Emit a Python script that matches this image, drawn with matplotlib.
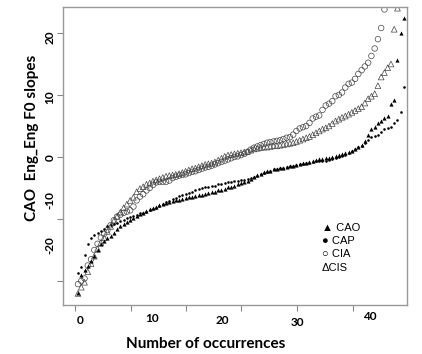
import numpy as np
import matplotlib.pyplot as plt

# sorted F0 slope values for each group (rank order)
cao = [-22.0, -19.0, -18.2, -17.5, -16.8, -16.0, -15.0, -14.0, -13.5, -13.1,
       -12.8, -12.2, -11.6, -11.2, -10.8, -10.5, -10.1, -9.8, -9.5, -9.2,
       -9.0, -8.7, -8.4, -8.2, -8.0, -7.8, -7.6, -7.4, -7.3, -7.1,
       -7.0, -6.9, -6.8, -6.6, -6.5, -6.4, -6.3, -6.2, -6.1, -5.9,
       -5.8, -5.7, -5.6, -5.4, -5.3, -5.1, -4.9, -4.8, -4.6, -4.4,
       -4.2, -4.0, -3.8, -3.5, -3.2, -2.9, -2.7, -2.5, -2.3, -2.2,
       -2.0, -1.9, -1.8, -1.7, -1.6, -1.5, -1.4, -1.3, -1.2, -1.0,
       -0.9, -0.8, -0.6, -0.5, -0.4, -0.3, -0.2, -0.1, 0.0, 0.2,
       0.3, 0.5, 0.7, 0.8, 1.0, 1.3, 1.6, 2.0, 2.6, 3.6,
       4.5, 4.8, 5.5, 5.8, 6.3, 6.6, 8.6, 9.2, 15.6, 20.0, 22.4]

cap = [-18.7, -17.8, -15.8, -14.0, -13.0, -12.6, -12.2, -11.9, -11.6, -11.2,
       -11.0, -10.8, -10.6, -10.4, -10.1, -9.9, -9.7, -9.5, -9.3, -9.1,
       -9.0, -8.8, -8.6, -8.4, -8.2, -7.9, -7.6, -7.3, -7.1, -6.8,
       -6.6, -6.3, -6.1, -5.9, -5.8, -5.6, -5.4, -5.2, -5.0, -4.9,
       -4.8, -4.7, -4.6, -4.4, -4.3, -4.2, -4.1, -4.0, -3.9, -3.8,
       -3.7, -3.7, -3.6, -3.4, -3.2, -3.0, -2.8, -2.6, -2.4, -2.2,
       -2.0, -1.9, -1.8, -1.7, -1.6, -1.5, -1.4, -1.3, -1.2, -1.1,
       -1.0, -0.9, -0.8, -0.7, -0.7, -0.6, -0.6, -0.5, -0.4, -0.2,
       0.0, 0.2, 0.4, 0.7, 1.0, 1.3, 1.6, 1.8, 2.3, 2.8,
       3.2, 3.4, 3.6, 4.0, 4.5, 4.7, 4.8, 5.5, 6.0, 7.3, 11.3]

cia = [-20.5, -20.0, -19.6, -17.5, -16.5, -15.0, -14.0, -13.0, -12.4, -11.8,
       -11.0, -10.2, -9.6, -9.3, -9.0, -8.8, -8.6, -8.0, -7.0, -6.4,
       -6.0, -5.4, -5.0, -4.5, -4.1, -4.0, -4.0, -4.0, -3.8, -3.4,
       -3.2, -3.0, -2.9, -2.8, -2.6, -2.4, -2.3, -2.1, -1.9, -1.7,
       -1.6, -1.4, -1.2, -1.0, -0.8, -0.6, -0.4, -0.2, 0.0, 0.1,
       0.3, 0.5, 0.8, 1.2, 1.5, 1.7, 1.9, 2.1, 2.3, 2.4,
       2.5, 2.6, 2.7, 2.9, 3.1, 3.2, 3.6, 4.2, 4.6, 4.8,
       5.0, 5.5, 6.2, 6.5, 6.7, 7.6, 8.3, 8.6, 9.0, 9.8,
       10.0, 10.4, 11.2, 11.8, 12.0, 12.6, 13.4, 14.0, 14.6, 15.2,
       16.3, 17.5, 19.0, 20.8, 23.8]

cis = [-22.0, -21.0, -20.2, -18.5, -17.2, -16.0, -14.8, -13.8, -13.0, -12.0,
       -11.2, -10.3, -9.6, -8.9, -8.2, -7.6, -7.0, -6.5, -5.6, -5.1,
       -4.8, -4.4, -4.2, -3.9, -3.7, -3.5, -3.3, -3.1, -3.0, -2.9,
       -2.8, -2.7, -2.5, -2.3, -2.1, -1.9, -1.8, -1.6, -1.4, -1.2,
       -1.1, -1.0, -0.8, -0.5, -0.2, 0.1, 0.3, 0.4, 0.5, 0.6,
       0.7, 0.8, 0.9, 1.1, 1.3, 1.4, 1.5, 1.6, 1.6, 1.7,
       1.8, 1.8, 1.9, 2.0, 2.1, 2.2, 2.3, 2.5, 2.7, 2.9,
       3.1, 3.3, 3.6, 3.9, 4.2, 4.5, 4.7, 5.0, 5.4, 5.8,
       6.1, 6.4, 6.6, 6.9, 7.2, 7.5, 7.8, 8.1, 8.7, 9.4,
       9.8, 10.2, 11.5, 12.9, 13.6, 14.4, 15.0, 20.6, 24.0]

x_labels = ["0", "10", "20", "30", "40"]
y_labels = ["20", "10", "0", "-10", "-20"]
legend_labels = ["\u25B2 CAO", "\u25CF CAP", "\u25CB CIA", "\u0394CIS"]

W, H = 422, 354
fig = plt.figure(figsize=(W / 100, H / 100), dpi=100)
ax = fig.add_axes([63 / W, 1 - 305 / H, 344 / W, 298 / H])


def rank(v):
    return np.arange(1, len(v) + 1)


ax.scatter(rank(cis), cis, marker="^", s=17, facecolors="none",
           edgecolors="#444444", linewidths=0.5, zorder=2)
ax.scatter(rank(cia), cia, marker="o", s=16, facecolors="none",
           edgecolors="#444444", linewidths=0.5, zorder=2)
ax.scatter(rank(cap), cap, marker="o", s=3.5, color="black", linewidths=0, zorder=3)
ax.scatter(rank(cao), cao, marker="^", s=9, color="black", linewidths=0, zorder=3)

# pixel layout of the original: rank 1 at x=78px, 3.26 px per rank
ax.set_xlim(-3.6, 101.92)
ax.set_ylim(-23.87, 24.19)
ax.set_xticks([0.08, 17.26, 34.13, 51.0, 68.18, 85.36])
ax.set_yticks([20, 10, 0, -10, -20])
ax.set_xticklabels([])
ax.set_yticklabels([])
ax.tick_params(length=4, width=0.8, color="#888888")
for sp in ax.spines.values():
    sp.set_color("#999999")
    sp.set_linewidth(1.0)


def px(x, y):
    return x / W, 1 - y / H


# tick labels (placed as in the original figure)
for lab, (x, y) in zip(x_labels, [(80, 320), (152, 318), (222, 321), (297, 322), (370, 317)]):
    fig.text(*px(x, y), lab, ha="center", va="center", fontsize=8.5,
             fontweight="bold", family="Lato")
for lab, y in zip(y_labels, [37, 97, 158, 200, 245]):
    fig.text(*px(50, y), lab, ha="center", va="center", fontsize=8.5,
             fontweight="bold", family="Lato", rotation=90)

fig.text(*px(32, 138), "CAO  Eng_Eng F0 slopes", ha="center", va="center",
         fontsize=11, fontweight="bold", family="Lato", rotation=90)
fig.text(*px(206, 344), "Number of occurrences", ha="center", va="center",
         fontsize=11, fontweight="bold", family="Lato")

for lab, y in zip(legend_labels, [228, 241, 254, 268]):
    fig.text(*px(322, y), lab, ha="left", va="center", fontsize=8,
             family=["Liberation Sans", "DejaVu Sans"])

fig.savefig("out.png", dpi=100)
